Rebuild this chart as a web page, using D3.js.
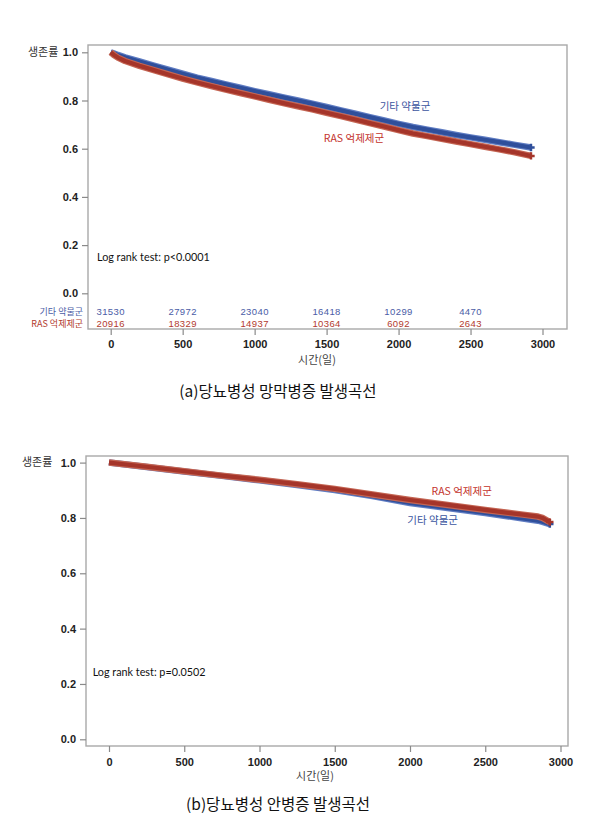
<!DOCTYPE html>
<html><head><meta charset="utf-8">
<script src="https://cdn.jsdelivr.net/npm/d3@7"></script>
<style>
body{margin:0;background:#fff;}
svg{display:block;}
</style></head>
<body>
<svg id="c" width="600" height="821"></svg>
<script>
// ---- DATA ----
const groupNames = ["기타 약물군", "RAS 억제제군"];
const xTicks = [0, 500, 1000, 1500, 2000, 2500, 3000];
const yTicks = [0.0, 0.2, 0.4, 0.6, 0.8, 1.0];

// Chart (a) 당뇨병성 망막병증
const aTime = [0, 20, 50, 100, 200, 300, 400, 500, 600, 700, 800, 900, 1000, 1100, 1200, 1300, 1400, 1500, 1600, 1700, 1800, 1900, 2000, 2100, 2200, 2300, 2400, 2500, 2600, 2700, 2800, 2920];
const aOther = [1.000, 0.996, 0.989, 0.979, 0.962, 0.945, 0.928, 0.911, 0.895, 0.881, 0.867, 0.853, 0.839, 0.826, 0.813, 0.800, 0.787, 0.773, 0.759, 0.745, 0.731, 0.717, 0.703, 0.690, 0.679, 0.668, 0.657, 0.647, 0.637, 0.627, 0.617, 0.605];
const aRAS   = [1.000, 0.990, 0.978, 0.964, 0.944, 0.926, 0.908, 0.891, 0.875, 0.860, 0.845, 0.831, 0.817, 0.803, 0.789, 0.776, 0.763, 0.749, 0.735, 0.721, 0.706, 0.692, 0.677, 0.663, 0.652, 0.641, 0.630, 0.619, 0.608, 0.597, 0.586, 0.570];
const riskTimes = [0, 500, 1000, 1500, 2000, 2500];
const riskOther = [31530, 27972, 23040, 16418, 10299, 4470];
const riskRAS   = [20916, 18329, 14937, 10364, 6092, 2643];

// Chart (b) 당뇨병성 안병증
const bTime = [0, 250, 500, 750, 1000, 1250, 1500, 1750, 2000, 2250, 2500, 2750, 2850, 2880, 2929];
const bOther = [1.000, 0.984, 0.968, 0.952, 0.936, 0.919, 0.901, 0.879, 0.854, 0.836, 0.818, 0.798, 0.790, 0.786, 0.778];
const bRAS   = [1.000, 0.985, 0.969, 0.953, 0.938, 0.922, 0.905, 0.885, 0.865, 0.847, 0.829, 0.812, 0.805, 0.800, 0.785];

const texts = {
  yLabel: "생존률",
  xLabel: "시간(일)",
  aTest: "Log rank test: p<0.0001",
  bTest: "Log rank test: p=0.0502",
  aCaption: "(a)당뇨병성 망막병증 발생곡선",
  bCaption: "(b)당뇨병성 안병증 발생곡선"
};

// ---- STYLE ----
const BLUE = "#2f4f9b", BLUE_EDGE = "#5f7cc2";
const RED = "#a5352a", RED_EDGE = "#c46553";
const KFONT = "'Noto Sans CJK KR', sans-serif";
const NFONT = "'Liberation Sans', Arial, sans-serif";
const svg = d3.select("#c");

function drawChart(cfg) {
  const g = svg.append("g");
  const x = d3.scaleLinear().domain([0, 3000]).range([cfg.x0, cfg.x3000]);
  const y = d3.scaleLinear().domain([0, 1]).range([cfg.y0, cfg.y1]);

  // frame
  g.append("rect").attr("x", cfg.fl).attr("y", cfg.ft)
    .attr("width", cfg.fr - cfg.fl).attr("height", cfg.fb - cfg.ft)
    .attr("fill", "none").attr("stroke", "#a9a9a9").attr("stroke-width", 1.4);

  // y axis
  const ya = g.append("g").attr("transform", `translate(${cfg.fl},0)`)
    .call(d3.axisLeft(y).tickValues(yTicks).tickFormat(d3.format(".1f")).tickSize(6).tickPadding(4));
  ya.select(".domain").remove();
  ya.selectAll(".tick line").attr("stroke", "#8a8a8a").attr("stroke-width", 1.2);
  ya.selectAll(".tick text").attr("font-family", NFONT).attr("font-weight", "bold")
    .attr("font-size", 11).attr("fill", "#222");

  // x axis
  const xa = g.append("g").attr("transform", `translate(0,${cfg.fb})`)
    .call(d3.axisBottom(x).tickValues(xTicks).tickFormat(d3.format("d")).tickSize(6).tickPadding(cfg.xPad));
  xa.select(".domain").remove();
  xa.selectAll(".tick line").attr("stroke", "#8a8a8a").attr("stroke-width", 1.2);
  xa.selectAll(".tick text").attr("font-family", NFONT).attr("font-weight", "bold")
    .attr("font-size", 11).attr("fill", "#222");

  // axis labels
  g.append("text").attr("x", cfg.ylx).attr("y", y(1)).attr("dy", "0.35em")
    .attr("font-family", KFONT).attr("font-size", 11).attr("fill", "#333").text(texts.yLabel);
  g.append("text").attr("x", cfg.xlx).attr("y", cfg.xly).attr("dy", "0.35em").attr("text-anchor", "middle")
    .attr("font-family", KFONT).attr("font-size", 11).attr("fill", "#444").text(texts.xLabel);

  // curves
  const line = d3.line().x(d => x(d[0])).y(d => y(d[1])).curve(d3.curveLinear);
  const series = cfg.order.map(k => cfg.series[k]);
  series.forEach(s => {
    const pts = s.t.map((t, i) => [t, s.v[i]]);
    g.append("path").attr("d", line(pts)).attr("fill", "none")
      .attr("stroke", s.edge).attr("stroke-width", 6.5).attr("stroke-linejoin", "round");
    g.append("path").attr("d", line(pts)).attr("fill", "none")
      .attr("stroke", s.color).attr("stroke-width", 4.2).attr("stroke-linejoin", "round");
    const last = pts[pts.length - 1];
    g.append("path").attr("d", d3.symbol(d3.symbolCross, 30)())
      .attr("transform", `translate(${x(last[0])},${y(last[1])})`).attr("fill", s.color);
  });

  // curve labels
  cfg.labels.forEach(l => {
    g.append("text").attr("x", l.x).attr("y", l.y).attr("dy", "0.35em").attr("text-anchor", "middle")
      .attr("font-family", KFONT).attr("font-size", 10.5).attr("fill", l.color).text(l.text);
  });

  // log-rank text
  g.append("text").attr("x", cfg.testX).attr("y", cfg.testY).attr("dy", "0.35em")
    .attr("font-family", "Lato, sans-serif").attr("font-size", 10.8).attr("fill", "#111").text(cfg.test);

  // caption
  g.append("text").attr("x", cfg.capX).attr("y", cfg.capY).attr("dy", "0.35em").attr("text-anchor", "middle")
    .attr("font-family", KFONT).attr("font-size", 15.5)
    .attr("fill", "#111").text(cfg.caption);

  return {g, x, y};
}

// chart a
const A = drawChart({
  fl: 88, fr: 567, ft: 45, fb: 329,
  x0: 110.7, x3000: 542.5, y0: 293.3, y1: 52.3, xPad: 5,
  ylx: 28, xlx: 317, xly: 360,
  order: ["other", "ras"],
  series: {
    other: {t: aTime, v: aOther, color: BLUE, edge: BLUE_EDGE},
    ras: {t: aTime, v: aRAS, color: RED, edge: RED_EDGE}
  },
  labels: [
    {x: 405, y: 106.5, text: groupNames[0], color: "#3b55a0"},
    {x: 354, y: 138.3, text: groupNames[1], color: "#c3322b"}
  ],
  testX: 97, testY: 257.7, test: texts.aTest,
  capX: 278, capY: 392, caption: texts.aCaption
});

// number at risk (a)
const riskRows = [
  {name: groupNames[0], vals: riskOther, color: "#4a5ca6", yy: 311.5},
  {name: groupNames[1], vals: riskRAS, color: "#b23a2e", yy: 324}
];
riskRows.forEach(r => {
  A.g.append("text").attr("x", 83).attr("y", r.yy).attr("dy", "0.35em").attr("text-anchor", "end")
    .attr("font-family", KFONT).attr("font-size", 9).attr("fill", r.color).text(r.name);
  A.g.selectAll(null).data(riskTimes.map((t, i) => [t, r.vals[i]])).enter().append("text")
    .attr("x", d => A.x(d[0])).attr("y", r.yy).attr("dy", "0.35em").attr("text-anchor", "middle")
    .attr("font-family", NFONT).attr("font-size", 9.5).attr("letter-spacing", "0.4")
    .attr("fill", r.color).text(d => d[1]);
});

// chart b
drawChart({
  fl: 86, fr: 568, ft: 456, fb: 746,
  x0: 109, x3000: 560.5, y0: 739.3, y1: 462.6, xPad: 6,
  ylx: 22, xlx: 315, xly: 776,
  order: ["other", "ras"],
  series: {
    other: {t: bTime, v: bOther, color: BLUE, edge: BLUE_EDGE},
    ras: {t: bTime, v: bRAS, color: RED, edge: RED_EDGE}
  },
  labels: [
    {x: 461.7, y: 491.7, text: groupNames[1], color: "#c3322b"},
    {x: 432.7, y: 520.5, text: groupNames[0], color: "#3b55a0"}
  ],
  testX: 92.7, testY: 672.3, test: texts.bTest,
  capX: 278, capY: 805, caption: texts.bCaption
});
</script>
</body></html>
